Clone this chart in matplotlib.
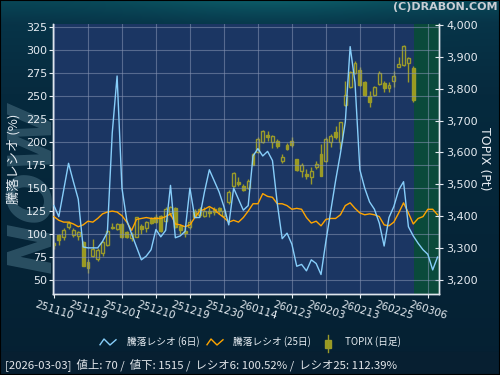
import numpy as np
import matplotlib.pyplot as plt
from matplotlib.lines import Line2D
from matplotlib.patches import Rectangle

plt.rcParams['font.family'] = ['DejaVu Sans', 'Noto Sans CJK JP']
JP = ['Noto Sans CJK JP', 'DejaVu Sans']

# x axis labels (every 7 trading days)
dates = ['251110', '251119', '251201', '251210', '251219', '251230',
         '260114', '260123', '260203', '260213', '260225', '260306']
date_pos = [0, 7, 14, 21, 28, 35, 42, 49, 56, 63, 70, 77]

# 騰落レシオ 6日 / 25日 (%)
ratio6 = [131, 119, 148, 177, 157, 138, 86, 85, 85, 85,
          92, 102, 210, 272, 150, 115, 100, 86, 72, 76,
          83, 105, 97, 104, 153, 96, 98, 103, 150, 118,
          118, 146, 170, 158, 146, 130, 110, 150, 138, 126,
          131, 185, 193, 185, 190, 180, 133, 95, 101, 89,
          65, 67, 60, 72, 68, 56, 92, 125, 158, 188,
          222, 304, 265, 170, 150, 135, 127, 112, 87, 118,
          130, 148, 157, 108, 98, 90, 83, 78, 61, 75]
ratio25 = [119, 115, 113, 113, 111, 108, 110, 114, 113, 117,
           122, 124, 125, 124, 120, 113, 104, 116, 117, 118,
           117, 117, 117, 119, 122, 111, 110, 108, 110, 118,
           125, 127, 130, 127, 122, 118, 113, 115, 113, 118,
           125, 133, 133, 144, 141, 140, 133, 133, 131, 127,
           128, 127, 118, 112, 114, 109, 116, 117, 117, 121,
           131, 134, 128, 123, 121, 122, 121, 119, 110, 109,
           113, 123, 134, 123, 111, 117, 119, 127, 127, 121]

# TOPIX daily candles
topix_open = [3315, 3340, 3334, 3365, 3342, 3339, 3318, 3257, 3276, 3266,
              3284, 3311, 3367, 3360, 3376, 3349, 3331, 3336, 3370, 3363,
              3391, 3399, 3402, 3386, 3409, 3426, 3369, 3355, 3365, 3417,
              3405, 3402, 3415, 3423, 3425, 3402, 3444, 3496, 3506, 3496,
              3489, 3595, 3600, 3632, 3656, 3632, 3637, 3574, 3624, 3635,
              3579, 3541, 3533, 3524, 3553, 3595, 3572, 3632, 3663, 3632,
              3749, 3804, 3848, 3859, 3820, 3778, 3780, 3815, 3817, 3801,
              3825, 3869, 3875, 3880, 3865]
topix_high = [3318, 3345, 3363, 3384, 3363, 3355, 3323, 3266, 3328, 3300,
              3323, 3357, 3379, 3379, 3379, 3355, 3349, 3399, 3376, 3386,
              3396, 3407, 3405, 3428, 3433, 3430, 3376, 3365, 3391, 3423,
              3428, 3428, 3430, 3430, 3430, 3423, 3482, 3538, 3522, 3501,
              3517, 3597, 3647, 3670, 3666, 3656, 3642, 3595, 3629, 3647,
              3580, 3566, 3548, 3553, 3572, 3627, 3647, 3658, 3684, 3697,
              3825, 3857, 3886, 3867, 3823, 3794, 3810, 3857, 3825, 3820,
              3857, 3901, 3938, 3901, 3872]
topix_low = [3297, 3310, 3326, 3360, 3334, 3325, 3245, 3221, 3273, 3258,
             3276, 3308, 3361, 3357, 3332, 3332, 3321, 3334, 3344, 3349,
             3376, 3378, 3349, 3381, 3402, 3363, 3344, 3334, 3360, 3396,
             3399, 3396, 3396, 3405, 3407, 3396, 3438, 3491, 3496, 3480,
             3484, 3560, 3597, 3629, 3635, 3614, 3614, 3566, 3608, 3616,
             3543, 3522, 3517, 3501, 3548, 3527, 3569, 3616, 3642, 3611,
             3747, 3802, 3846, 3810, 3778, 3742, 3778, 3813, 3789, 3789,
             3804, 3869, 3872, 3820, 3757]
topix_close = [3310, 3325, 3357, 3379, 3357, 3349, 3245, 3238, 3297, 3294,
               3318, 3355, 3363, 3376, 3334, 3336, 3344, 3396, 3360, 3381,
               3378, 3381, 3353, 3423, 3430, 3365, 3357, 3346, 3381, 3399,
               3423, 3417, 3409, 3412, 3415, 3417, 3475, 3535, 3501, 3482,
               3511, 3562, 3642, 3666, 3647, 3653, 3621, 3585, 3611, 3624,
               3545, 3562, 3527, 3543, 3564, 3527, 3642, 3653, 3647, 3695,
               3780, 3851, 3880, 3813, 3781, 3757, 3806, 3848, 3802, 3813,
               3841, 3878, 3935, 3896, 3765]

left_ticks = [50, 75, 100, 125, 150, 175, 200, 225, 250, 275, 300, 325]
right_ticks = [3200, 3300, 3400, 3500, 3600, 3700, 3800, 3900, 4000]
right_labels = ['3,200', '3,300', '3,400', '3,500', '3,600', '3,700',
                '3,800', '3,900', '4,000']

status = '[2026-03-03]  値上: 70 /  値下: 1515 /  レシオ6: 100.52% /  レシオ25: 112.39%'

plot_bg = '#1b3663'
future_bg = '#0a4a3b'
grid_c = '#8795b5'
txt_c = '#e6ecf2'
c6 = '#87cefa'
c25 = '#ffa500'
candle_fill = '#9c9c1c'
candle_edge = '#9a9a2a'

fig = plt.figure(figsize=(5, 3.75), dpi=100)

# background gradient
bg = fig.add_axes([0, 0, 1, 1], zorder=-10)
t = np.linspace(0, 1, 375)[:, None] * np.ones((1, 500))
u = np.ones((375, 1)) * np.linspace(0, 1, 500)[None, :]
glow = np.exp(-((u - 0.55) ** 2) / 0.08) * np.exp(-t / 0.05)
r = np.interp(t, [0, 0.06, 0.25, 1], [8, 7, 6, 5]) + 4 * glow
g = np.interp(t, [0, 0.06, 0.25, 1], [70, 52, 42, 32]) + 22 * glow
b = np.interp(t, [0, 0.06, 0.25, 1], [86, 72, 62, 50]) + 18 * glow
img = np.clip(np.dstack([r, g, b]) / 255.0, 0, 1)
bg.imshow(img, extent=[0, 1, 0, 1], aspect='auto', origin='upper')
bg.add_patch(Rectangle((0, 0), 1, 0.062, color='#071f31'))
bg.set_xlim(0, 1)
bg.set_ylim(0, 1)
bg.axis('off')

# faint watermark behind the left axis
fig.text(0.068, 0.50, 'NOW', rotation=90, fontsize=44, fontweight='heavy',
         style='italic', color='#2a4f62', ha='center', va='center', zorder=-5)

ax = fig.add_axes([0.106, 0.216, 0.772, 0.72])
ax2 = ax.twinx()
ax.set_zorder(ax2.get_zorder() + 1)
ax.patch.set_visible(False)
ax2.patch.set_facecolor(plot_bg)
ax2.patch.set_visible(True)

# candles on the TOPIX axis
xc = np.arange(len(topix_open))
o = np.array(topix_open)
h = np.array(topix_high)
l = np.array(topix_low)
c = np.array(topix_close)
up = c >= o
lo = np.minimum(o, c)
hi = np.maximum(o, c)
ax2.axvspan(74.05, 79.3, color=future_bg, zorder=0, lw=0)
ax2.vlines(xc, l, lo, color=candle_edge, lw=1, zorder=2)
ax2.vlines(xc, hi, h, color=candle_edge, lw=1, zorder=2)
ax2.bar(xc[up], (hi - lo)[up], bottom=lo[up], width=0.6,
        facecolor=plot_bg, edgecolor=candle_edge, lw=1, zorder=3)
ax2.bar(xc[~up], (hi - lo)[~up], bottom=lo[~up], width=0.6,
        facecolor=candle_fill, edgecolor=candle_edge, lw=1, zorder=3)

# ratio lines
xr = np.arange(len(ratio6))
ax.plot(xr, ratio25, color=c25, lw=1, zorder=4)
ax.plot(xr, ratio6, color=c6, lw=1, zorder=5)

ax.set_xlim(-0.2, 79.3)
ax.set_ylim(34.8, 328.6)
ax2.set_ylim(3156, 4003)

ax.set_yticks(left_ticks)
ax.set_xticks(date_pos)
ax.set_xticklabels(dates, rotation=-18, ha='center', fontsize=7.5, color=txt_c)
ax2.set_yticks(right_ticks)
ax2.set_yticklabels(right_labels)

ax.grid(True, color=grid_c, lw=0.8, alpha=0.55)
ax.tick_params(axis='y', colors=txt_c, labelsize=8, length=3, pad=1)
ax.tick_params(axis='x', colors=txt_c, length=3, pad=1)
ax2.tick_params(axis='y', colors=txt_c, labelsize=8, length=6,
                direction='inout', pad=2)

for a in (ax, ax2):
    a.spines['top'].set_visible(False)
    for s in ('left', 'right', 'bottom'):
        a.spines[s].set_color('#dfe6ee')
        a.spines[s].set_linewidth(1)

fig.text(0.028, 0.576, '騰落レシオ (%)', rotation=90, family=JP, fontsize=9.5,
         color=txt_c, ha='center', va='center')
fig.text(0.970, 0.576, 'TOPIX (Pt)', rotation=-90, fontsize=9,
         color=txt_c, ha='center', va='center')
fig.text(0.994, 0.996, '(C)DRABON.COM', fontsize=8, fontweight='bold',
         color='#c9ced4', ha='right', va='top')

# legend row
ly = 1 - 342 / 375
zig = np.array([-0.55, 0.6, -0.6, 0.45]) * 5 / 375
fig.add_artist(Line2D(np.array([100, 104, 110, 116]) / 500, ly + zig,
                      color=c6, lw=1))
fig.text(127 / 500, ly, '騰落レシオ (6日)', family=JP, fontsize=7,
         color=txt_c, va='center')
fig.add_artist(Line2D(np.array([207, 211, 217, 223]) / 500, ly + zig,
                      color=c25, lw=1))
fig.text(233 / 500, ly, '騰落レシオ (25日)', family=JP, fontsize=7,
         color=txt_c, va='center')
fig.add_artist(Line2D([328 / 500, 328 / 500], [1 - 335 / 375, 1 - 352 / 375],
                      color=candle_edge, lw=1))
fig.add_artist(Rectangle((325 / 500, 1 - 348 / 375), 6 / 500, 8 / 375,
                         facecolor=candle_fill, edgecolor=candle_edge, lw=1))
fig.text(345 / 500, ly, 'TOPIX (日足)', family=JP, fontsize=7,
         color=txt_c, va='center')

fig.text(5 / 500, 1 - 365 / 375, status, family=JP, fontsize=8.2,
         color='#e2e6ea', va='center')

fig.add_artist(Rectangle((0, 0), 1, 1, fill=False, edgecolor='black', lw=1.5))

fig.savefig('out.png', dpi=100, facecolor='#0a2c44')
